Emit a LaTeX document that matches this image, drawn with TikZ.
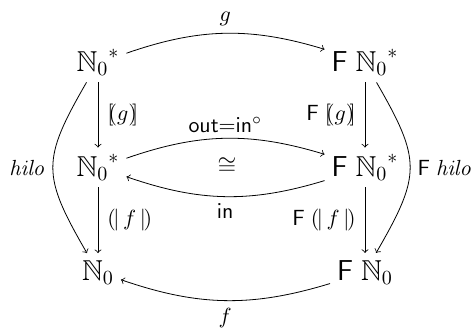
\documentclass[tikz,border=0pt]{standalone}
\usepackage{amsmath,amssymb}
\newcommand{\anaL}{\mathopen{[\mkern-4mu(}}
\newcommand{\anaR}{\mathclose{)\mkern-4mu]}}
\newcommand{\catL}{\mathopen{(\mkern-2mu|}}
\newcommand{\catR}{\mathclose{|\mkern-2mu)}}
\begin{document}
\begin{tikzpicture}[x=0.5pt,y=-0.5pt,
  obj/.style={font=\Large, inner sep=3.33pt, anchor=base},
  lab/.style={font=\fontsize{11.2}{13}\selectfont, inner sep=3.5pt},
  arr/.style={->, line width=0.4pt}]
\useasboundingbox (0,0) rectangle (474,328);
\node[obj] (A) at (98,71) {${\mathbb{N}_0}^{*}$};
\node[obj] (B) at (365,71) {$\mathsf{F}\;{\mathbb{N}_0}^{*}$};
\node[obj] (C) at (98,176) {${\mathbb{N}_0}^{*}$};
\node[obj] (D) at (365,176) {$\mathsf{F}\;{\mathbb{N}_0}^{*}$};
\node[obj] (E) at (98,280) {$\mathbb{N}_0$};
\node[obj] (G) at (365,280) {$\mathsf{F}\;\mathbb{N}_0$};
\node[font=\large, inner sep=1pt] (iso) at (227,166) {$\cong$};

\draw[arr] (A) to[bend left=18] node[lab,above] (lg) {$g$} (B);
\draw[arr] (C) to[bend left=18] node[lab,above,inner sep=2.5pt] (lout) {$\mathsf{out}{=}\mathsf{in}^{\circ}$} (D);
\draw[arr] (D) to[bend left=18] node[lab,below] (lin) {$\mathsf{in}$} (C);
\draw[arr] (G) to[bend left=18] node[lab,below] (lf) {$f$} (E);

\draw[arr] (A) -- node[lab,right,inner sep=4.5pt] (lana) {$\anaL g\anaR$} (C);
\draw[arr] (C) -- node[lab,right,inner sep=4.5pt] (lcat) {$\catL\, f\,\catR$} (E);
\draw[arr] (B) -- node[lab,left,inner sep=4.5pt] (lFana) {$\mathsf{F}\;\anaL g\anaR$} (D);
\draw[arr] (D) -- node[lab,left,inner sep=4.5pt] (lFcat) {$\mathsf{F}\;\catL\, f\,\catR$} (G);

\draw[arr] (A) to[out=240,in=120,looseness=1.35] node[lab,left] (lh) {$\mathit{hilo}$} (E);
\draw[arr] (B) to[out=-60,in=60,looseness=1.35] node[lab,right] (lFh) {$\mathsf{F}\;\mathit{hilo}$} (G);
\end{tikzpicture}
\end{document}
